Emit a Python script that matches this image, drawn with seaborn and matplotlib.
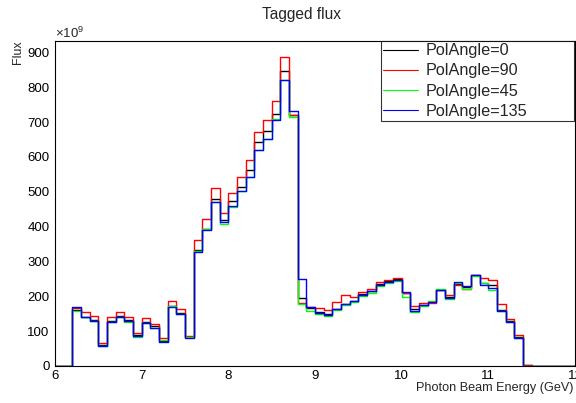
import numpy as np
import pandas as pd
import matplotlib
matplotlib.use("Agg")
import matplotlib.pyplot as plt
from matplotlib.lines import Line2D
from matplotlib.ticker import MultipleLocator
import seaborn as sns

# Tagged photon flux (units of 1e9) in 0.1 GeV bins, first bin starts at 6.2 GeV
first_edge = 6.2
bin_width = 0.1
flux_pol0 = [162, 142, 131, 60, 130, 143, 132, 88, 127, 114, 73, 173, 151, 83,
             333, 394, 478, 418, 474, 514, 564, 642, 674, 724, 846, 721,
             196, 167, 154, 149, 163, 179, 186, 206, 216, 235, 244, 250, 210,
             163, 176, 184, 218, 199, 235, 228, 262, 237, 232, 160, 128, 83, 2]
flux_pol90 = [167, 155, 143, 65, 141, 156, 140, 96, 137, 120, 81, 186, 164, 87,
              363, 423, 511, 440, 497, 542, 592, 673, 705, 760, 886, 720,
              180, 170, 166, 162, 183, 203, 199, 212, 222, 241, 248, 253, 211,
              172, 180, 180, 217, 205, 233, 222, 261, 254, 247, 177, 136, 89, 3]
flux_pol45 = [159, 140, 129, 58, 127, 141, 127, 84, 124, 108, 76, 171, 150, 82,
              330, 392, 470, 409, 456, 502, 543, 620, 652, 708, 820, 716,
              178, 159, 150, 144, 160, 176, 183, 201, 210, 229, 239, 245, 198,
              154, 171, 186, 221, 192, 238, 220, 259, 237, 218, 158, 125, 80, 1]
flux_pol135 = [170, 140, 129, 57, 127, 141, 129, 85, 124, 110, 70, 169, 149, 81,
               327, 390, 471, 413, 459, 502, 544, 621, 653, 705, 821, 733,
               250, 168, 152, 147, 164, 178, 187, 205, 214, 232, 241, 246, 213,
               157, 174, 185, 219, 196, 240, 230, 261, 233, 223, 157, 125, 80, 0]

series_names = ["PolAngle=0", "PolAngle=90", "PolAngle=45", "PolAngle=135"]
series_values = [flux_pol0, flux_pol90, flux_pol45, flux_pol135]
series_colors = ["#000000", "#ff0000", "#00ff00", "#0000ff"]

x_min, x_max = 6.0, 12.0
y_max = 933
y_ticks = [0, 100, 200, 300, 400, 500, 600, 700, 800, 900]
x_ticks = [6, 7, 8, 9, 10, 11, 12]

# full histogram binning 6-12 GeV, empty bins outside the tagged range
edges = np.round(np.arange(x_min, x_max + bin_width / 2, bin_width), 3)
centers = (edges[:-1] + edges[1:]) / 2
offset = int(round((first_edge - x_min) / bin_width))

sns.set_theme(style="white")
plt.rcParams["font.family"] = ["Liberation Sans", "DejaVu Sans"]
plt.rcParams["mathtext.fontset"] = "custom"
plt.rcParams["mathtext.rm"] = "Liberation Sans"
plt.rcParams["mathtext.it"] = "Liberation Sans"

fig = plt.figure(figsize=(5.76, 4.03), dpi=100)
ax = fig.add_axes([55 / 576, 1 - 366 / 403, 520 / 576, 325 / 403])

for name, vals, col in zip(series_names, series_values, series_colors):
    full = np.zeros(len(centers))
    full[offset:offset + len(vals)] = vals
    df = pd.DataFrame({"energy": centers, "flux": full})
    sns.histplot(data=df, x="energy", weights="flux", bins=edges.tolist(),
                 element="step", fill=False, color=col, linewidth=1.0,
                 ax=ax)

ax.set_xlim(x_min, x_max)
ax.set_ylim(0, y_max)
ax.set_xticks(x_ticks)
ax.set_yticks(y_ticks)
ax.xaxis.set_minor_locator(MultipleLocator(0.2))
ax.yaxis.set_minor_locator(MultipleLocator(20))
ax.tick_params(axis="both", which="both", direction="in", colors="black",
               labelsize=9.5, top=False, right=False)
ax.tick_params(axis="x", which="major", length=8, width=0.8, pad=3)
ax.tick_params(axis="x", which="minor", length=4, width=0.8)
ax.tick_params(axis="y", which="major", length=14, width=0.8, pad=4)
ax.tick_params(axis="y", which="minor", length=7, width=0.8)
for sp in ax.spines.values():
    sp.set_color("black")
    sp.set_linewidth(0.8)

ax.set_xlabel("")
ax.set_ylabel("")
fig.text(573 / 576, 1 - 388 / 403, "Photon Beam Energy (GeV)", ha="right",
         va="center", fontsize=9.1)
fig.text(18 / 576, 1 - 40 / 403, "Flux", rotation=90, ha="center", va="top",
         fontsize=9)
fig.text(55 / 576, 1 - 38 / 403, r"$\times10^{9}$", ha="left", va="baseline",
         fontsize=9.5)
fig.text(301 / 576, 1 - 15 / 403, "Tagged flux", ha="center", va="center",
         fontsize=11.2)

handles = [Line2D([], [], color=c, linewidth=0.8) for c in series_colors]
leg = ax.legend(handles, series_names, loc="upper left",
                bbox_to_anchor=(381 / 576, 1 - 121 / 403, 193 / 576, 80 / 403),
                bbox_transform=fig.transFigure, mode="expand",
                borderaxespad=0, frameon=True, fancybox=False,
                edgecolor="black", fontsize=11.7, borderpad=0.15,
                labelspacing=0.31, handlelength=2.1, handletextpad=0.5)
leg.get_frame().set_linewidth(0.8)

fig.savefig("out.png", dpi=100)
